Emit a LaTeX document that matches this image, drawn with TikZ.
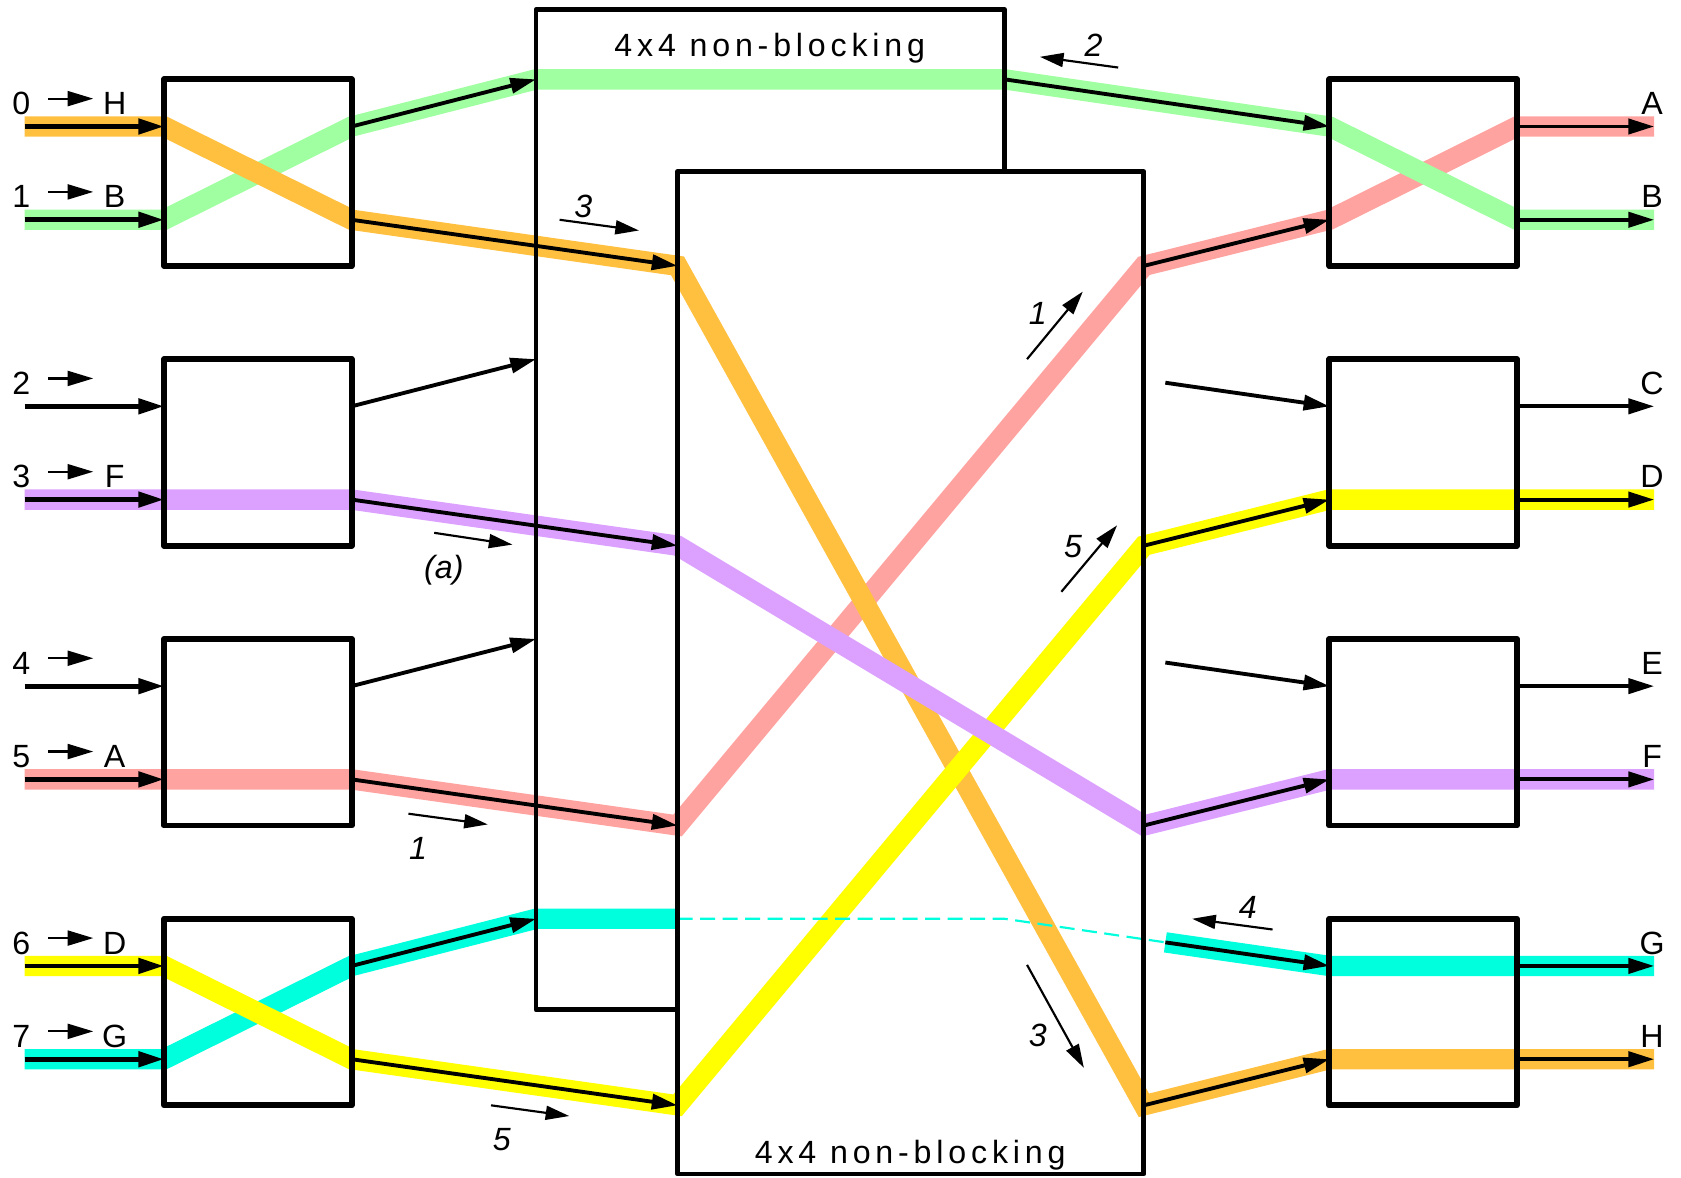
\documentclass[tikz,border=0pt]{standalone}
\usepackage{fontspec}
\setmainfont{Liberation Sans}
\newfontfamily\spacedsans[LetterSpace=15]{Liberation Sans}
\usetikzlibrary{arrows.meta,backgrounds}

\definecolor{bandorange}{HTML}{FFC040}
\definecolor{bandgreen}{HTML}{A0FFA0}
\definecolor{bandpink}{HTML}{FFA3A0}
\definecolor{bandviolet}{HTML}{DCA0FF}
\definecolor{bandyellow}{HTML}{FFFF00}
\definecolor{bandcyan}{HTML}{00FFDC}

\begin{document}
\begin{tikzpicture}[x=1pt,y=-1pt,
  every node/.style={inner sep=0pt,outer sep=0pt},
  swbox/.style={draw,line width=5.5pt,line join=round,minimum width=175pt,minimum height=174pt},
  band/.style={draw=#1,line width=19pt,line join=miter,line cap=butt},
  inwire/.style={line width=4.5pt,-{Triangle[length=24pt,width=14pt]}},
  wire/.style={line width=3.6pt,-{Triangle[length=24pt,width=14pt]}},
  ptr/.style={line width=2pt,-{Triangle[length=24pt,width=14pt]}},
  hint/.style={line width=2pt,-{Triangle[length=22pt,width=13pt]}},
  lbl/.style={font=\fontsize{30}{30}\selectfont},
  ilbl/.style={font=\fontsize{30}{30}\selectfont\itshape},
  headtxt/.style={font=\fontsize{30}{30}\selectfont\spacedsans,anchor=base},
  frameline/.style={line width=4.5pt,line join=round},
  dashlink/.style={draw=bandcyan,line width=2pt,dash pattern=on 14pt off 7pt}
]
\useasboundingbox (0,0) rectangle (1568,1098);

% the two 4x4 non-blocking switches (outlines drawn further down)
\node[minimum width=437pt,minimum height=933pt] (U) at (718.5,475.5) {};
\node[minimum width=435pt,minimum height=935pt] (D) at (849.5,627.5) {};

% 2x2 switches and their ports
\foreach \b/\yy in {1/74,2/335,3/596,4/857} {
  \node[swbox] (L\b) at (240.5,\yy+87) {};
  \node[swbox] (R\b) at (1327.5,\yy+87) {};
  \coordinate (S\b-u) at (23,\yy+44);
  \coordinate (S\b-l) at (23,\yy+131);
  \coordinate (L\b-iu) at (L\b.west |- S\b-u);
  \coordinate (L\b-il) at (L\b.west |- S\b-l);
  \coordinate (L\b-ou) at (L\b.east |- S\b-u);
  \coordinate (L\b-ol) at (L\b.east |- S\b-l);
  \coordinate (R\b-iu) at (R\b.west |- S\b-u);
  \coordinate (R\b-il) at (R\b.west |- S\b-l);
  \coordinate (R\b-ou) at (R\b.east |- S\b-u);
  \coordinate (R\b-ol) at (R\b.east |- S\b-l);
  \coordinate (K\b-u) at (1543,\yy+44);
  \coordinate (K\b-l) at (1543,\yy+131);
  \coordinate (U\b) at (U.west |- L\b.north);
  \coordinate (D\b-in) at (D.west |- L\b.south);
  \coordinate (D\b-out) at (D.east |- L\b.south);
  \coordinate (F\b) at (1087,\yy+22);
}
\coordinate (Uout) at (U.east |- U1);

% coloured connection paths
\begin{scope}[on background layer]
  \draw[band=bandcyan] (S4-l) -- (L4-il) -- (L4-ou) -- (U4) -- (D.west |- U4);
  \draw[band=bandcyan] (F4) -- (R4-iu) -- (K4-u);
  \draw[band=bandpink] (S3-l) -- (L3-ol) -- (D3-in) -- (D1-out) -- (R1-il) -- (R1-ou) -- (K1-u);
  \draw[band=bandgreen] (S1-l) -- (L1-il) -- (L1-ou) -- (U1) -- (Uout) -- (R1-iu) -- (R1-ol) -- (K1-l);
  \draw[band=bandorange] (S1-u) -- (L1-iu) -- (L1-ol) -- (D1-in) -- (D4-out) -- (R4-il) -- (K4-l);
  \draw[band=bandyellow] (S4-u) -- (L4-iu) -- (L4-ol) -- (D4-in) -- (D2-out) -- (R2-il) -- (K2-l);
  \draw[band=bandviolet] (S2-l) -- (L2-ol) -- (D2-in) -- (D3-out) -- (R3-il) -- (K3-l);
  \draw[dashlink] (D.west |- U4) -- (U.east |- U4) -- (F4);
\end{scope}

% switch outlines: the rear one is partly hidden by the front one
\draw[frameline] (D.west |- U.south) -- (U.south west) -- (U.north west) -- (U.north east) -- (U.east |- D.north);
\draw[frameline] (D.south west) rectangle (D.north east);
\node[headtxt] (Ut) at (718,53) {4x4 non-blocking};
\node[headtxt] (Dt) at (849,1085) {4x4 non-blocking};

% wiring
\foreach \b in {1,...,4} {
  \draw[inwire] (S\b-u) -- (L\b-iu);
  \draw[inwire] (S\b-l) -- (L\b-il);
  \draw[wire] (L\b-ou) -- (U\b);
  \draw[wire] (L\b-ol) -- (D\b-in);
  \draw[wire] (D\b-out) -- (R\b-il);
  \draw[wire] (R\b-ou) -- (K\b-u);
  \draw[wire] (R\b-ol) -- (K\b-l);
}
\draw[wire] (Uout) -- (R1-iu);
\foreach \b in {2,3,4} \draw[wire] (F\b) -- (R\b-iu);

% input numbers with their destinations
\foreach \n/\yy in {0/118,1/205,2/379,3/466,4/640,5/727,6/901,7/988} {
  \node[lbl,anchor=base] (n\n) at (20,\yy-11) {\n};
  \coordinate (t\n a) at (45,\yy-26);
  \coordinate (t\n b) at (87,\yy-26);
  \draw[ptr] (t\n a) -- (t\n b);
}
\foreach \n/\yy/\l in {0/118/H,1/205/B,3/466/F,5/727/A,6/901/D,7/988/G}
  \node[lbl,anchor=base] (m\n) at (107,\yy-11) {\l};

% output names
\foreach \yy/\l in {118/A,205/B,379/C,466/D,640/E,727/F,901/G,988/H}
  \node[lbl,anchor=base] (o\l) at (1541,\yy-11) {\l};

% step markers
\node[ilbl] (s2) at (1020,42) {2};
\coordinate (s2a) at (1043,63); \coordinate (s2b) at (970,53);
\draw[hint] (s2a) -- (s2b);

\node[ilbl] (s3a) at (544,193) {3};
\coordinate (s3aa) at (522,205); \coordinate (s3ab) at (596,215);
\draw[hint] (s3aa) -- (s3ab);

\node[ilbl] (sa) at (414,532) {(a)};
\coordinate (saa) at (405,497); \coordinate (sab) at (478,508);
\draw[hint] (saa) -- (sab);

\node[ilbl] (s1a) at (390,791) {1};
\coordinate (s1aa) at (381,759); \coordinate (s1ab) at (455,769);
\draw[hint] (s1aa) -- (s1ab);

\node[ilbl] (s5a) at (468,1063) {5};
\coordinate (s5aa) at (458,1031); \coordinate (s5ab) at (531,1041);
\draw[hint] (s5aa) -- (s5ab);

\node[ilbl] (s1b) at (968,292) {1};
\coordinate (s1ba) at (958,335); \coordinate (s1bb) at (1010,272);
\draw[hint] (s1ba) -- (s1bb);

\node[ilbl] (s5b) at (1001,510) {5};
\coordinate (s5ba) at (990,552); \coordinate (s5bb) at (1042,490);
\draw[hint] (s5ba) -- (s5bb);

\node[ilbl] (s3b) at (968,966) {3};
\coordinate (s3ba) at (958,900); \coordinate (s3bb) at (1011,996);
\draw[hint] (s3ba) -- (s3bb);

\node[ilbl] (s4) at (1164,846) {4};
\coordinate (s4a) at (1187,867); \coordinate (s4b) at (1112,857);
\draw[hint] (s4a) -- (s4b);

\end{tikzpicture}
\end{document}
